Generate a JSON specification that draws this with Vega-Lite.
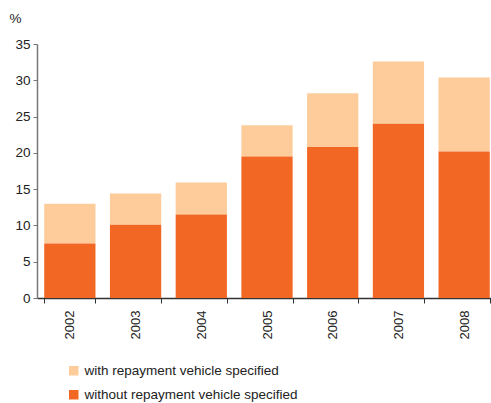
{
  "$schema": "https://vega.github.io/schema/vega-lite/v6.json",
  "autosize": "none",
  "width": 460,
  "height": 254,
  "padding": {"left": 37, "top": 44, "right": 0, "bottom": 105},
  "background": "white",
  "config": {
    "view": {"stroke": null},
    "font": "Liberation Sans",
    "axis": {"labelFont": "Liberation Sans", "titleFont": "Liberation Sans"}
  },
  "data": {
    "values": [
      {"year": "2002", "series": "with repayment vehicle specified", "value": 5.5},
      {"year": "2002", "series": "without repayment vehicle specified", "value": 7.5},
      {"year": "2003", "series": "with repayment vehicle specified", "value": 4.3},
      {"year": "2003", "series": "without repayment vehicle specified", "value": 10.1},
      {"year": "2004", "series": "with repayment vehicle specified", "value": 4.4},
      {"year": "2004", "series": "without repayment vehicle specified", "value": 11.5},
      {"year": "2005", "series": "with repayment vehicle specified", "value": 4.3},
      {"year": "2005", "series": "without repayment vehicle specified", "value": 19.5},
      {"year": "2006", "series": "with repayment vehicle specified", "value": 7.4},
      {"year": "2006", "series": "without repayment vehicle specified", "value": 20.8},
      {"year": "2007", "series": "with repayment vehicle specified", "value": 8.6},
      {"year": "2007", "series": "without repayment vehicle specified", "value": 24.0},
      {"year": "2008", "series": "with repayment vehicle specified", "value": 10.2},
      {"year": "2008", "series": "without repayment vehicle specified", "value": 20.2}
    ]
  },
  "mark": {"type": "bar"},
  "encoding": {
    "x": {
      "field": "year",
      "type": "ordinal",
      "scale": {"paddingInner": 0.22, "paddingOuter": 0.11},
      "axis": {
        "title": null,
        "labelAngle": -90,
        "labelBaseline": "middle",
        "labelAlign": "right",
        "labelFontSize": 13,
        "labelColor": "#222",
        "labelPadding": 7,
        "tickBand": "extent",
        "tickSize": 5,
        "tickColor": "#333",
        "domainColor": "#333",
        "domainWidth": 1.5
      }
    },
    "y": {
      "field": "value",
      "type": "quantitative",
      "stack": "zero",
      "scale": {"domain": [0, 35], "nice": false},
      "axis": {
        "values": [0, 5, 10, 15, 20, 25, 30, 35],
        "grid": false,
        "title": "%",
        "titleAngle": 0,
        "titleX": -22,
        "titleY": -26,
        "titleAlign": "center",
        "titleBaseline": "middle",
        "titleFontSize": 13.5,
        "titleFontWeight": "normal",
        "titleColor": "#222",
        "labelFontSize": 13.5,
        "labelColor": "#222",
        "labelPadding": 3,
        "tickSize": 4,
        "tickColor": "#777",
        "domainColor": "#777",
        "domainWidth": 1.5
      }
    },
    "color": {
      "field": "series",
      "type": "nominal",
      "scale": {
        "domain": ["with repayment vehicle specified", "without repayment vehicle specified"],
        "range": ["#FDCC9A", "#F36724"]
      },
      "legend": {
        "title": null,
        "orient": "none",
        "legendX": 30,
        "legendY": 320,
        "symbolType": "square",
        "symbolSize": 90,
        "symbolStrokeWidth": 0,
        "labelFontSize": 13.5,
        "labelColor": "#222",
        "labelOffset": 4,
        "labelLimit": 400,
        "rowPadding": 9
      }
    },
    "order": {"field": "series", "sort": "descending"}
  }
}
